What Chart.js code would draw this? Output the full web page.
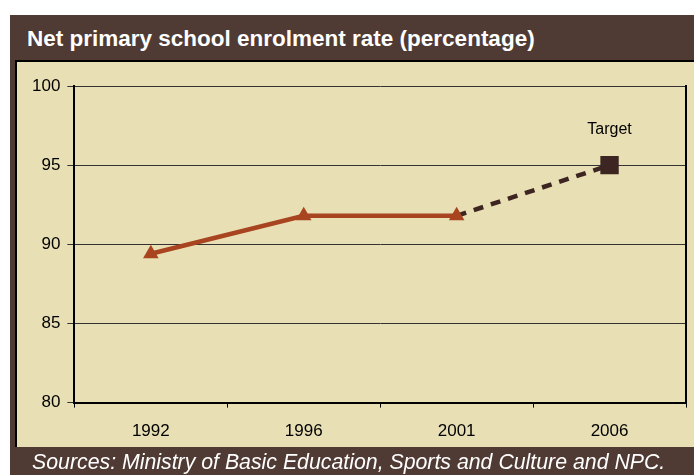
<!DOCTYPE html>
<html>
<head>
<meta charset="utf-8">
<script src="https://cdn.jsdelivr.net/npm/chart.js@4"></script>
<style>
  body { margin: 0; background: #fff; width: 694px; height: 475px; overflow: hidden; position: relative; font-family: "Liberation Sans", Arial, sans-serif; }
  #quadro { position: absolute; left: 10px; top: 15px; width: 684px; height: 460px; background: #4F3A34; }
  #titulo { position: absolute; left: 27px; top: 26px; color: #fff; font-weight: bold; font-size: 22.5px; }
  #painel { position: absolute; left: 15px; top: 60px; width: 677px; height: 385px; background: #E8DFB5; border-left: 2px solid #000; border-top: 2px solid #000; }
  #grafico { position: absolute; left: 0; top: 0; }
  #fonte { position: absolute; left: 32px; top: 450px; color: #fff; font-style: italic; font-size: 21.3px; }
</style>
</head>
<body>
<div id="quadro"></div>
<div id="titulo">Net primary school enrolment rate (percentage)</div>
<div id="painel"><canvas id="grafico" width="682" height="394"></canvas></div>
<div id="fonte">Sources: Ministry of Basic Education, Sports and Culture and NPC.</div>
<script>
const anos = ["1992", "1996", "2001", "2006"];
const taxa = [89.4, 91.8, 91.8, null];
const meta = [null, null, 91.8, 95];
const rotuloMeta = "Target";

// escreve "Target" acima do ultimo ponto da meta
const textoMeta = {
  id: "textoMeta",
  afterDatasetsDraw(chart){
    const ponto = chart.getDatasetMeta(1).data[3];
    const ctx = chart.ctx;
    ctx.save();
    ctx.fillStyle = "#000";
    ctx.font = "16px 'Liberation Sans', Arial";
    ctx.textAlign = "center";
    ctx.textBaseline = "middle";
    ctx.fillText(rotuloMeta, ponto.x, ponto.y - 36);
    ctx.restore();
  }
};

new Chart("grafico", {
  type: "line",
  data: {
    labels: anos,
    datasets: [{
      data: taxa,
      borderColor: "#A8441F",
      backgroundColor: "#A8441F",
      borderWidth: 4.5,
      pointStyle: "triangle",
      pointRadius: 9,
      pointBorderWidth: 0,
      fill: false
    },
    {
      data: meta,
      borderColor: "#3D2622",
      backgroundColor: "#3D2622",
      borderWidth: 4.5,
      borderDash: [10, 8],
      pointStyle: "rect",
      pointRadius: [0, 0, 0, 13],
      pointBorderWidth: 0,
      fill: false
    }]
  },
  plugins: [textoMeta],
  options: {
    responsive: false,
    animation: false,
    layout: { padding: { left: 8, right: 2, top: 24, bottom: 0 } },
    plugins: { legend: { display: false }, tooltip: { enabled: false } },
    scales: {
      x: {
        offset: true,
        grid: { drawOnChartArea: false, color: "#000", tickLength: 5, offset: true },
        border: { color: "#000", width: 2 },
        ticks: { color: "#000", font: { size: 17, family: "'Liberation Sans', Arial" }, padding: 14 }
      },
      y: {
        min: 80, max: 100,
        ticks: { stepSize: 5, color: "#000", font: { size: 17, family: "'Liberation Sans', Arial" }, padding: 7 },
        grid: { color: "#333", tickLength: 7 },
        border: { color: "#000", width: 2 }
      },
      direita: {
        position: "right",
        min: 80, max: 100,
        ticks: { display: false },
        grid: { display: false },
        border: { color: "#000", width: 2 }
      }
    }
  }
});
</script>
</body>
</html>
